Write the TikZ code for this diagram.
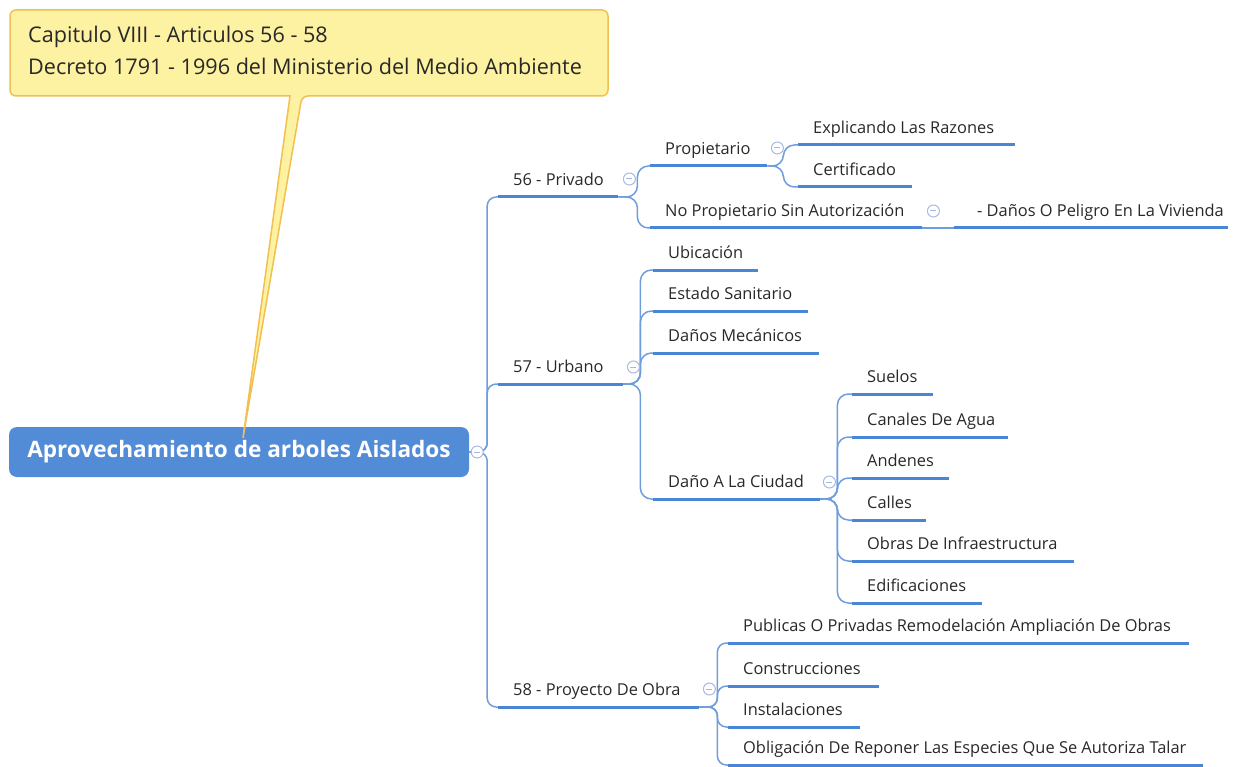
\documentclass[tikz,border=0pt]{standalone}
\usepackage{fontspec}
\setmainfont{Open Sans}
\usetikzlibrary{calc}
\definecolor{ulc}{RGB}{74,134,214}
\definecolor{cnc}{RGB}{112,157,222}
\definecolor{rootc}{RGB}{82,139,214}
\definecolor{callf}{RGB}{253,241,162}
\definecolor{calld}{RGB}{242,192,82}
\definecolor{txc}{RGB}{40,40,40}
\definecolor{icc}{RGB}{168,184,222}
\newcommand\tpc[3][15]{\makebox[#2pt][l]{\hspace{#1pt}#3}}
\tikzset{
  topic/.style={anchor=south west, inner sep=0pt, text height=13pt, text depth=11pt,
    font=\fontsize{16.4}{18}\selectfont, text=txc},
  uline/.style={draw=ulc, line width=3pt},
  conn/.style={draw=cnc, line width=1.5pt, rounded corners=11pt},
  tightconn/.style={conn, rounded corners=9pt},
  icon/.style={circle, draw=icc, fill=white, line width=1pt, minimum size=12pt, inner sep=0pt,
    path picture={\draw[icc, line width=1pt]
      ($(path picture bounding box.center)+(-3,0)$) -- ($(path picture bounding box.center)+(3,0)$);}},
  rootbox/.style={rectangle, rounded corners=8pt, fill=rootc, text=white, minimum width=460pt,
    minimum height=50pt, inner sep=0pt, font=\bfseries\fontsize{22.6}{26}\selectfont},
  callout/.style={fill=callf, draw=calld, line width=1.5pt},
  calltext/.style={anchor=base west, inner sep=0pt, text=txc, font=\fontsize{21.6}{26}\selectfont}
}
\begin{document}
\begin{tikzpicture}[x=1pt,y=-1pt]
\useasboundingbox (0,0) rectangle (1233,767);

% root
\node[rootbox] (root) at (239,452) {Aprovechamiento de arboles Aislados};

% level 1
\node[topic] (priv) at (498,197) {\tpc{120}{56 - Privado}};
\node[topic] (urb)  at (498,384) {\tpc{125}{57 - Urbano}};
\node[topic] (obra) at (498,707) {\tpc{201}{58 - Proyecto De Obra}};

% privado
\node[topic] (prop)   at (650,166) {\tpc{117}{Propietario}};
\node[topic] (noprop) at (650,228) {\tpc{272}{No Propietario Sin Autorización}};
\node[topic] (expl)   at (798,145) {\tpc{217}{Explicando Las Razones}};
\node[topic] (cert)   at (798,187) {\tpc{114}{Certificado}};
\node[topic] (danos)  at (954,228) {\tpc[23]{274}{- Daños O Peligro En La Vivienda}};

% urbano
\node[topic] (ubic)   at (653,270) {\tpc{105}{Ubicación}};
\node[topic] (estado) at (653,311) {\tpc{155}{Estado Sanitario}};
\node[topic] (mec)    at (653,353) {\tpc{166}{Daños Mecánicos}};
\node[topic] (ciudad) at (653,499) {\tpc{167}{Daño A La Ciudad}};
\node[topic] (suelos)  at (852,394) {\tpc{81}{Suelos}};
\node[topic] (canales) at (852,437) {\tpc{156}{Canales De Agua}};
\node[topic] (andenes) at (852,478) {\tpc{97}{Andenes}};
\node[topic] (calles)  at (852,520) {\tpc{74}{Calles}};
\node[topic] (infra)   at (852,561) {\tpc{222}{Obras De Infraestructura}};
\node[topic] (edif)    at (852,603) {\tpc{130}{Edificaciones}};

% obra
\node[topic] (pub)   at (728,643) {\tpc{461}{Publicas O Privadas Remodelación Ampliación De Obras}};
\node[topic] (cons)  at (728,686) {\tpc{151}{Construcciones}};
\node[topic] (inst)  at (728,727) {\tpc{132}{Instalaciones}};
\node[topic] (oblig) at (728,765) {\tpc{475}{Obligación De Reponer Las Especies Que Se Autoriza Talar}};

% connectors
\foreach \c in {priv,urb,obra}
  \draw[tightconn] (root.east) -- ++(18,0) |- (\c.south west);
\foreach \c in {prop,noprop}
  \draw[conn] (priv.south east) -- ++(19,0) |- (\c.south west);
\foreach \c in {expl,cert}
  \draw[conn] (prop.south east) -- ++(16,0) |- (\c.south west);
\draw[conn] (noprop.south east) -- (danos.south west);
\foreach \c in {ubic,estado,mec,ciudad}
  \draw[conn] (urb.south east) -- ++(17,0) |- (\c.south west);
\foreach \c in {suelos,canales,andenes,calles,infra,edif}
  \draw[conn] (ciudad.south east) -- ++(17,0) |- (\c.south west);
\foreach \c in {pub,cons,inst,oblig}
  \draw[tightconn] (obra.south east) -- ++(18,0) |- (\c.south west);

% underlines
\foreach \n in {priv,urb,obra,prop,noprop,expl,cert,danos,ubic,estado,mec,ciudad,
  suelos,canales,andenes,calles,infra,edif,pub,cons,inst,oblig}
  \draw[uline] (\n.south west) -- (\n.south east);

% collapse icons
\node[icon] (i0) at ($(root.east)+(8,0)$) {};
\node[icon] (i1) at ($(priv.south east)+(11,-18)$) {};
\node[icon] (i2) at ($(urb.south east)+(10,-17)$) {};
\node[icon] (i3) at ($(obra.south east)+(10,-18)$) {};
\node[icon] (i4) at ($(prop.south east)+(10,-18)$) {};
\node[icon] (i5) at ($(noprop.south east)+(11,-17)$) {};
\node[icon] (i6) at ($(ciudad.south east)+(9,-17)$) {};

% callout
\draw[callout] (10,50) [rounded corners=6pt] -- (10,10) -- (608,10) -- (608,96) -- (302,96)
  [sharp corners] -- (243,438) -- (290,96) [rounded corners=6pt] -- (10,96) -- cycle;
\node[calltext] (ct1) at (28,43) {Capitulo VIII - Articulos 56 - 58};
\node[calltext] (ct2) at (28,75) {Decreto 1791 - 1996 del Ministerio del Medio Ambiente};
\end{tikzpicture}
\end{document}
